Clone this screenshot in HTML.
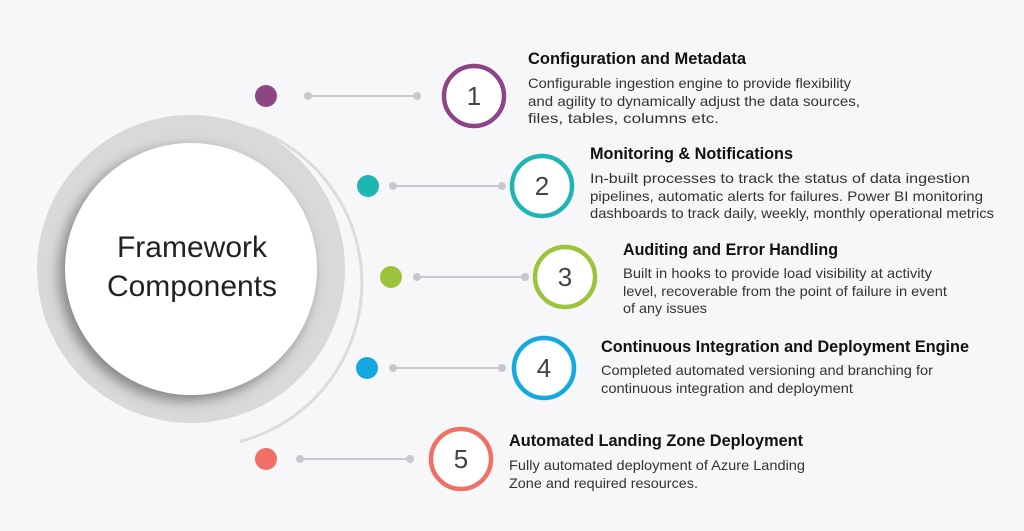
<!DOCTYPE html>
<html><head><meta charset="utf-8"><style>
html,body{margin:0;padding:0;background:#f7f7f9;}
svg{display:block;}
.t{font-family:"Liberation Sans",sans-serif;font-weight:bold;font-size:16.5px;fill:#111;}
.b{font-family:"Liberation Sans",sans-serif;font-size:14px;fill:#333;}
.n{font-family:"Liberation Sans",sans-serif;font-size:26px;fill:#444;text-anchor:middle;}
</style></head><body>
<svg width="1024" height="531" viewBox="0 0 1024 531" xmlns="http://www.w3.org/2000/svg">
<defs>
<filter id="bl" x="-20%" y="-20%" width="140%" height="140%"><feGaussianBlur stdDeviation="6"/></filter>
</defs>
<rect width="1024" height="531" fill="#f7f7f9"/>
<path d="M250 127.5 A164 164 0 0 1 240 441.5" fill="none" stroke="#dcdcde" stroke-width="3"/>
<circle cx="191" cy="269" r="154" fill="#d9d9db"/>
<circle cx="186" cy="274" r="127" fill="#444" opacity="0.55" filter="url(#bl)"/>
<circle cx="191" cy="269" r="126" fill="#fff"/>
<text x="192" y="257" font-family="Liberation Sans,sans-serif" font-size="30" fill="#222" text-anchor="middle">Framework</text>
<text x="192" y="296" font-family="Liberation Sans,sans-serif" font-size="30" fill="#222" text-anchor="middle">Components</text>

<g stroke="#c8c8cc" stroke-width="2" fill="#c8c8cc">
<line x1="308" y1="96" x2="417" y2="96"/><circle cx="308" cy="96" r="3"/><circle cx="417" cy="96" r="3"/>
<line x1="393" y1="186" x2="502" y2="186"/><circle cx="393" cy="186" r="3"/><circle cx="502" cy="186" r="3"/>
<line x1="417" y1="277" x2="525" y2="277"/><circle cx="417" cy="277" r="3"/><circle cx="525" cy="277" r="3"/>
<line x1="393" y1="368" x2="502" y2="368"/><circle cx="393" cy="368" r="3"/><circle cx="502" cy="368" r="3"/>
<line x1="300" y1="459" x2="410" y2="459"/><circle cx="300" cy="459" r="3"/><circle cx="410" cy="459" r="3"/>
</g>
<circle cx="266" cy="96" r="11" fill="#8e4585"/>
<circle cx="368" cy="186" r="11" fill="#1fb5b5"/>
<circle cx="391" cy="277" r="11" fill="#9bc43a"/>
<circle cx="367" cy="368" r="11" fill="#14a9e0"/>
<circle cx="266" cy="459" r="11" fill="#f07066"/>

<circle cx="474" cy="96" r="30" fill="#fff" stroke="#8e4585" stroke-width="4.5"/>
<circle cx="542" cy="186" r="30" fill="#fff" stroke="#1fb5b5" stroke-width="4.5"/>
<circle cx="565" cy="277" r="30" fill="#fff" stroke="#9bc43a" stroke-width="4.5"/>
<circle cx="544" cy="368" r="30" fill="#fff" stroke="#14a9e0" stroke-width="4.5"/>
<circle cx="461" cy="459" r="30" fill="#fff" stroke="#f07066" stroke-width="4.5"/>
<text class="n" x="474" y="105">1</text>
<text class="n" x="542" y="195">2</text>
<text class="n" x="565" y="286">3</text>
<text class="n" x="544" y="377">4</text>
<text class="n" x="461" y="468">5</text>

<text class="t" x="528" y="64" textLength="218" lengthAdjust="spacingAndGlyphs">Configuration and Metadata</text>
<text class="b" x="528" y="88" textLength="323" lengthAdjust="spacingAndGlyphs">Configurable ingestion engine to provide flexibility</text>
<text class="b" x="528" y="106" textLength="332" lengthAdjust="spacingAndGlyphs">and agility to dynamically adjust the data sources,</text>
<text class="b" x="528" y="123" textLength="191" lengthAdjust="spacingAndGlyphs">files, tables, columns etc.</text>

<text class="t" x="590" y="159" textLength="203" lengthAdjust="spacingAndGlyphs">Monitoring &amp; Notifications</text>
<text class="b" x="590" y="183" textLength="380" lengthAdjust="spacingAndGlyphs">In-built processes to track the status of data ingestion</text>
<text class="b" x="590" y="201" textLength="393" lengthAdjust="spacingAndGlyphs">pipelines, automatic alerts for failures. Power BI monitoring</text>
<text class="b" x="590" y="218" textLength="404" lengthAdjust="spacingAndGlyphs">dashboards to track daily, weekly, monthly operational metrics</text>

<text class="t" x="623" y="255" textLength="215" lengthAdjust="spacingAndGlyphs">Auditing and Error Handling</text>
<text class="b" x="623" y="278" textLength="309" lengthAdjust="spacingAndGlyphs">Built in hooks to provide load visibility at activity</text>
<text class="b" x="623" y="296" textLength="324" lengthAdjust="spacingAndGlyphs">level, recoverable from the point of failure in event</text>
<text class="b" x="623" y="313" textLength="84" lengthAdjust="spacingAndGlyphs">of any issues</text>

<text class="t" x="601" y="352" textLength="368" lengthAdjust="spacingAndGlyphs">Continuous Integration and Deployment Engine</text>
<text class="b" x="601" y="375" textLength="332" lengthAdjust="spacingAndGlyphs">Completed automated versioning and branching for</text>
<text class="b" x="601" y="393" textLength="252" lengthAdjust="spacingAndGlyphs">continuous integration and deployment</text>

<text class="t" x="509" y="446" textLength="294" lengthAdjust="spacingAndGlyphs">Automated Landing Zone Deployment</text>
<text class="b" x="509" y="470" textLength="296" lengthAdjust="spacingAndGlyphs">Fully automated deployment of Azure Landing</text>
<text class="b" x="509" y="488" textLength="189" lengthAdjust="spacingAndGlyphs">Zone and required resources.</text>
</svg>
</body></html>
